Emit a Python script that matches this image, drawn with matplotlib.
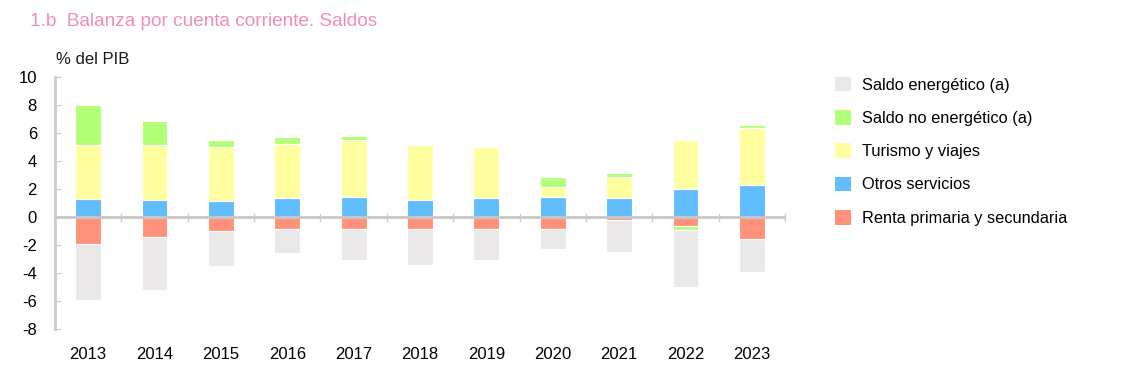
import matplotlib
matplotlib.use("Agg")
import matplotlib.pyplot as plt
import numpy as np
from matplotlib.patches import Patch

plt.rcParams['font.family'] = ['Liberation Sans', 'DejaVu Sans']
plt.rcParams['axes.unicode_minus'] = False

years = ["2013", "2014", "2015", "2016", "2017", "2018", "2019", "2020", "2021", "2022", "2023"]
renta = [-1.90, -1.43, -1.03, -0.84, -0.84, -0.84, -0.85, -0.84, -0.19, -0.62, -1.55]
otros = [1.28, 1.19, 1.12, 1.36, 1.40, 1.24, 1.33, 1.40, 1.33, 1.97, 2.26]
turismo = [3.88, 3.97, 3.86, 3.88, 4.12, 3.90, 3.69, 0.76, 1.55, 3.55, 4.12]
no_energ = [2.84, 1.72, 0.54, 0.50, 0.29, 0.10, 0.00, 0.67, 0.28, -0.29, 0.16]
energ = [-4.05, -3.76, -2.50, -1.76, -2.21, -2.57, -2.20, -1.42, -2.29, -4.07, -2.40]

series_names = ["Renta primaria y secundaria", "Otros servicios", "Turismo y viajes",
                "Saldo no energético (a)", "Saldo energético (a)"]
series_vals = [renta, otros, turismo, no_energ, energ]
colors = ["#ff927a", "#62bdfe", "#ffff9f", "#b3ff78", "#eae8e9"]

W, H = 1144, 374
fig = plt.figure(figsize=(W / 100, H / 100), dpi=100)
ax = fig.add_axes([55 / W, 1 - 329 / H, (785 - 55) / W, (329 - 77) / H])

x = np.arange(len(years))
pos_base = np.zeros(len(years))
neg_base = np.zeros(len(years))
for name, vals, col in zip(series_names, series_vals, colors):
    v = np.array(vals, dtype=float)
    bottom = np.where(v >= 0, pos_base, neg_base)
    ax.bar(x, v, 0.39, bottom=bottom, color=col, edgecolor="white", linewidth=0.8, zorder=2)
    pos_base = pos_base + np.where(v >= 0, v, 0)
    neg_base = neg_base + np.where(v < 0, v, 0)

ax.set_xlim(-0.5, len(years) - 0.5)
ax.set_ylim(-8, 10)
ax.set_yticks(np.arange(-8, 11, 2))
ax.set_xticks(x)
ax.set_xticklabels(years)

for s in ["top", "right", "bottom"]:
    ax.spines[s].set_visible(False)
ax.spines["left"].set_color("#cccccc")
ax.spines["left"].set_linewidth(2)
ax.axhline(0, color="#c8c8c8", linewidth=2, zorder=3)
for b in np.arange(0.5, len(years) - 0.5 + 0.01, 1.0):
    ax.plot([b, b], [-0.25, 0.25], color="#cccccc", linewidth=1, zorder=3, clip_on=False)

ax.tick_params(axis="y", direction="in", length=4, color="#cccccc", labelsize=12, pad=13)
ax.tick_params(axis="x", length=0, labelsize=12, pad=13)
for lab in ax.get_yticklabels():
    lab.set_horizontalalignment("right")

fig.text(30 / W, 1 - 21 / H, "1.b  Balanza por cuenta corriente. Saldos", color="#f28db5",
         fontsize=13.7, va="center", ha="left")
fig.text(56 / W, 1 - 60 / H, "% del PIB", fontsize=12, va="center", ha="left", color="#1a1a1a")

handles = [Patch(facecolor=c, edgecolor="none") for c in colors[::-1]]
labels = series_names[::-1]
leg = fig.legend(handles, labels, loc="upper left", bbox_to_anchor=(828 / W, 1 - 70 / H),
                 frameon=False, fontsize=11.8, handlelength=1.0, handleheight=1.0,
                 handletextpad=0.65, labelspacing=1.06, borderaxespad=0)

fig.savefig("out.png", dpi=100)
